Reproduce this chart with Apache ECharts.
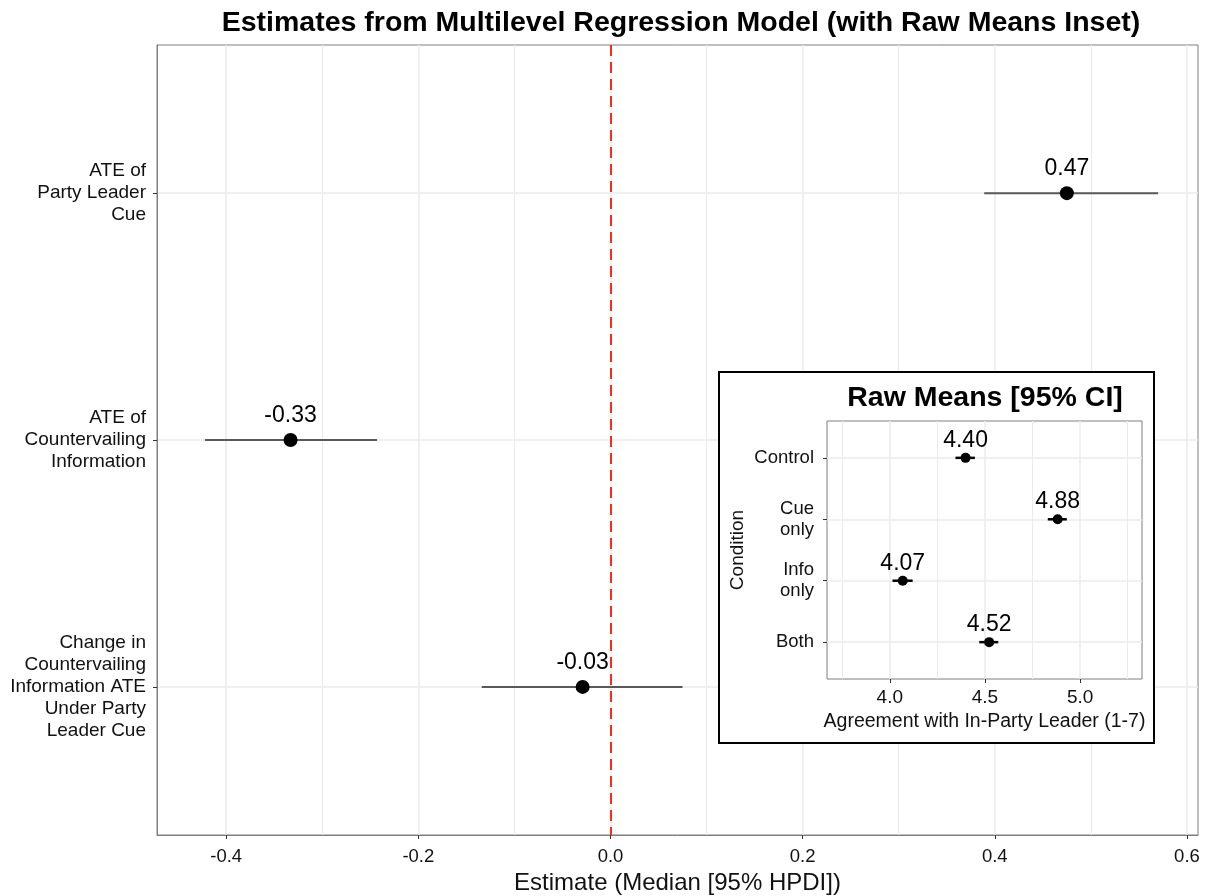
<!DOCTYPE html>
<html>
<head>
<meta charset="utf-8">
<script src="https://cdn.jsdelivr.net/npm/echarts@6/dist/echarts.min.js"></script>
<style>
  html, body { margin: 0; padding: 0; background: #fff; }
  #chart { width: 1210px; height: 896px; }
</style>
</head>
<body>
<div id="chart"></div>
<script>
// main panel: model estimates
const effectNames = ['ATE of\nParty Leader\nCue', 'ATE of\nCountervailing\nInformation', 'Change in\nCountervailing\nInformation ATE\nUnder Party\nLeader Cue']
const effectMedian = [0.475, -0.333, -0.029]
const effectLow = [0.389, -0.422, -0.134]
const effectHigh = [0.570, -0.243, 0.075]
const effectText = ['0.47', '-0.33', '-0.03']
const mainTicks = [-0.4, -0.2, 0.0, 0.2, 0.4, 0.6]
const mainMinorTicks = [-0.3, -0.1, 0.1, 0.3, 0.5]

// inset: raw means
const conditions = ['Control', 'Cue\nonly', 'Info\nonly', 'Both']
const rawMean = [4.398, 4.882, 4.068, 4.522]
const rawLow = [4.345, 4.83, 4.014, 4.47]
const rawHigh = [4.447, 4.93, 4.12, 4.57]
const rawText = ['4.40', '4.88', '4.07', '4.52']
const insetTicks = [4.0, 4.5, 5.0]
const insetMinorTicks = [3.75, 4.25, 4.75, 5.25]

const font = 'Liberation Sans, Arial, sans-serif'
const textColor = '#111'
const gridColor = '#ebebeb'
const frameColor = '#7f7f7f'

const chart = echarts.init(document.getElementById('chart'))

// error bar drawn as a horizontal segment low..high at the row position
function errorBar (width, color) {
  return function (params, api) {
    const a = api.coord([api.value(0), api.value(2)])
    const b = api.coord([api.value(1), api.value(2)])
    return {
      type: 'line',
      shape: { x1: a[0], y1: a[1], x2: b[0], y2: b[1] },
      style: { stroke: color, lineWidth: width },
    }
  }
}

const rows = (n) => Array.from({ length: n }, (_, i) => i + 1)

chart.setOption({
  animation: false,
  textStyle: { fontFamily: font },
  title: [{
    text: 'Estimates from Multilevel Regression Model (with Raw Means Inset)',
    left: 676,
    top: 4,
    textAlign: 'center',
    textStyle: { fontSize: 28.5, fontWeight: 'bold', color: '#000', fontFamily: font },
  }, {
    text: 'Raw Means [95% CI]',
    left: 980,
    top: 379,
    textAlign: 'center',
    z: 10,
    textStyle: { fontSize: 28.5, fontWeight: 'bold', color: '#000', fontFamily: font },
  }],
  graphic: [{
    type: 'rect',
    z: 1,
    shape: { x: 719, y: 372, width: 435, height: 371 },
    style: { fill: '#fff', stroke: '#000', lineWidth: 2 },
  }],
  grid: [{
    left: 157, top: 45, right: 12, bottom: 61, outerBoundsMode: 'none',
    show: true, borderColor: frameColor, borderWidth: 1, backgroundColor: 'transparent',
  }, {
    left: 827, top: 421, width: 315, height: 258, z: 3, outerBoundsMode: 'none',
    show: true, borderColor: frameColor, borderWidth: 1, backgroundColor: 'transparent',
  }],
  xAxis: [{
    // main axis
    type: 'value', gridIndex: 0, min: -0.472, max: 0.6115,
    name: 'Estimate (Median [95% HPDI])', nameLocation: 'middle', nameGap: 35,
    nameTextStyle: { fontSize: 24, color: textColor },
    axisLine: { show: true, onZero: false, lineStyle: { color: frameColor } },
    axisTick: { show: true, length: 4, customValues: mainTicks, lineStyle: { color: '#333' } },
    axisLabel: { customValues: mainTicks, margin: 12, fontSize: 18.5, color: textColor, formatter: (v) => v.toFixed(1) },
    splitLine: { show: true, lineStyle: { color: gridColor, width: 1.5 } },
  }, {
    // main minor grid
    type: 'value', gridIndex: 0, min: -0.472, max: 0.6115,
    axisLine: { show: false, onZero: false },
    axisTick: { show: false, customValues: mainMinorTicks },
    axisLabel: { show: false, customValues: mainMinorTicks },
    splitLine: { show: true, lineStyle: { color: gridColor, width: 1 } },
  }, {
    // inset axis
    type: 'value', gridIndex: 1, min: 3.67, max: 5.325, z: 4,
    name: 'Agreement with In-Party Leader (1-7)', nameLocation: 'middle', nameGap: 33,
    nameTextStyle: { fontSize: 19.5, color: textColor },
    axisLine: { show: false, onZero: false },
    axisTick: { show: true, length: 4, customValues: insetTicks, lineStyle: { color: '#333' } },
    axisLabel: { customValues: insetTicks, margin: 9, fontSize: 19, color: textColor, formatter: (v) => v.toFixed(1) },
    splitLine: { show: true, lineStyle: { color: gridColor, width: 1.5 } },
  }, {
    // inset minor grid
    type: 'value', gridIndex: 1, min: 3.67, max: 5.325, z: 4,
    axisLine: { show: false, onZero: false },
    axisTick: { show: false, customValues: insetMinorTicks },
    axisLabel: { show: false, customValues: insetMinorTicks },
    splitLine: { show: true, lineStyle: { color: gridColor, width: 1 } },
  }],
  yAxis: [{
    type: 'value', gridIndex: 0, min: 0.4, max: 3.6, inverse: true,
    axisLine: { show: true, onZero: false, lineStyle: { color: frameColor } },
    axisTick: { show: true, length: 4, customValues: rows(effectNames.length), lineStyle: { color: '#333' } },
    axisLabel: {
      customValues: rows(effectNames.length), margin: 11, fontSize: 19, lineHeight: 22,
      color: textColor, align: 'right', formatter: (v) => effectNames[v - 1],
    },
    splitLine: { show: true, lineStyle: { color: gridColor, width: 1.5 } },
  }, {
    type: 'value', gridIndex: 1, min: 0.4, max: 4.6, inverse: true, z: 4,
    name: 'Condition', nameLocation: 'middle', nameGap: 80, nameRotate: 90,
    nameTextStyle: { fontSize: 19, color: textColor },
    axisLine: { show: false, onZero: false },
    axisTick: { show: true, length: 4, customValues: rows(conditions.length), lineStyle: { color: '#333' } },
    axisLabel: {
      customValues: rows(conditions.length), margin: 13, fontSize: 18.5, lineHeight: 21,
      color: textColor, align: 'right', formatter: (v) => conditions[v - 1],
    },
    splitLine: { show: true, lineStyle: { color: gridColor, width: 1.5 } },
  }],
  series: [{
    type: 'custom',
    xAxisIndex: 0, yAxisIndex: 0,
    renderItem: errorBar(2, '#595959'),
    data: effectLow.map((lo, i) => [lo, effectHigh[i], i + 1]),
    z: 2,
  }, {
    type: 'scatter',
    xAxisIndex: 0, yAxisIndex: 0,
    symbolSize: 14,
    itemStyle: { color: '#000', opacity: 1 },
    data: effectMedian.map((v, i) => [v, i + 1]),
    z: 3,
    label: {
      show: true, position: 'top', distance: 6, fontSize: 23, color: '#000',
      formatter: (p) => effectText[p.dataIndex],
    },
    markLine: {
      silent: true,
      symbol: 'none',
      label: { show: false },
      lineStyle: { color: '#ff2a1a', type: [11, 6], width: 2, opacity: 1 },
      data: [{ xAxis: 0 }],
    },
  }, {
    type: 'custom',
    xAxisIndex: 2, yAxisIndex: 1,
    renderItem: errorBar(2.5, '#000'),
    data: rawLow.map((lo, i) => [lo, rawHigh[i], i + 1]),
    z: 5,
  }, {
    type: 'scatter',
    xAxisIndex: 2, yAxisIndex: 1,
    symbolSize: 10,
    itemStyle: { color: '#000', opacity: 1 },
    data: rawMean.map((v, i) => [v, i + 1]),
    z: 6,
    label: {
      show: true, position: 'top', distance: 1, fontSize: 23, color: '#000',
      formatter: (p) => rawText[p.dataIndex],
    },
  }],
})
</script>
</body>
</html>
